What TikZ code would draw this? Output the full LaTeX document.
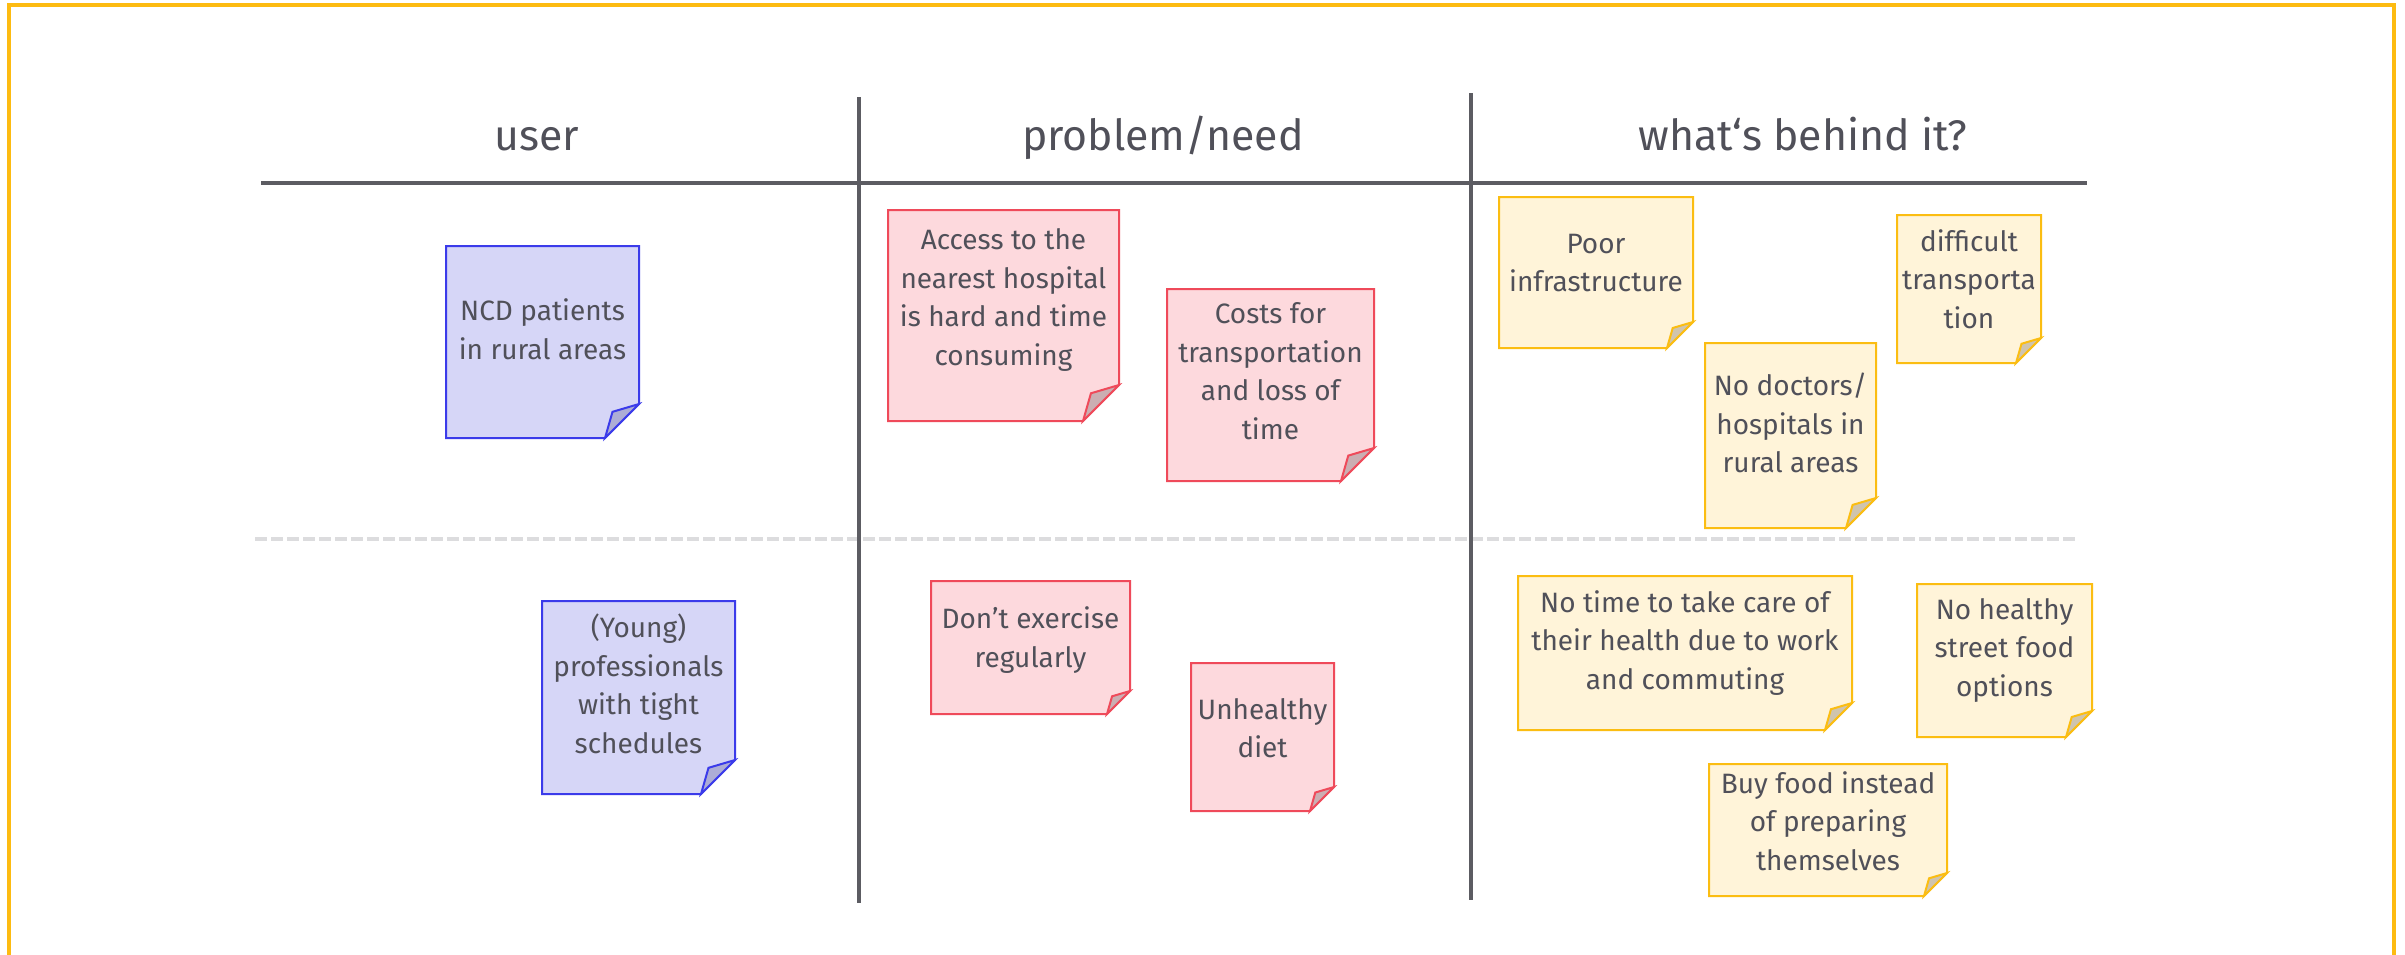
\documentclass[tikz,border=0pt]{standalone}
\usepackage{fontspec}
\setmainfont{Fira Sans}
\definecolor{txt}{HTML}{505059}
\definecolor{rule}{HTML}{5C5C62}
\definecolor{dashc}{HTML}{DCDCDE}
\definecolor{frame}{HTML}{FDBB11}
\definecolor{bluefill}{HTML}{D6D6F7}
\definecolor{blueline}{HTML}{3B3BEA}
\definecolor{bluefold}{HTML}{ADADD6}
\definecolor{pinkfill}{HTML}{FDD9DD}
\definecolor{pinkline}{HTML}{EF4A5A}
\definecolor{pinkfold}{HTML}{CBAEB2}
\definecolor{yellowfill}{HTML}{FFF4D9}
\definecolor{yellowline}{HTML}{FBBD12}
\definecolor{yellowfold}{HTML}{CFC4AE}
\newcommand\stickynote[9]{%
  \draw[notebox, fill=#2fill, draw=#2line] (#3,#4) -- (#5,#4) -- (#5,{#6-#7}) -- ({#5-#7},#6) -- (#3,#6) -- cycle;
  \draw[notebox, fill=#2fold, draw=#2line] (#5,{#6-#7}) -- ({#5-0.78*#7},{#6-0.77*#7}) -- ({#5-#7},#6) -- cycle;
  \node[notetext] (#1) at ({(#3+#5)/2},#8) {#9};
}
\begin{document}
\begin{tikzpicture}[x=0.5pt,y=-0.5pt,
  notebox/.style={line width=1pt, line join=miter},
  notetext/.style={font=\fontsize{14}{19.25}\selectfont, text=txt, align=center, inner sep=0pt},
  header/.style={font=\fontsize{21.4}{26}\selectfont, text=txt, inner sep=0pt, anchor=base},
  colrule/.style={draw=rule, line width=1.75pt},
  rowrule/.style={draw=dashc, line width=2pt, dash pattern=on 6pt off 2pt}]
\useasboundingbox (0,0) rectangle (2405,954);
\fill[white] (0,0) rectangle (2405,954);
% outer frame
\coordinate (fbl) at (9,958);
\coordinate (ftl) at (9,5);
\coordinate (ftr) at (2394,5);
\coordinate (fbr) at (2394,958);
\draw[draw=frame, line width=2pt] (fbl) -- (ftl) -- (ftr) -- (fbr);
% headers
\node[header] (hUser) at (537,150) {user};
\node[header] (hProb) at (1163,150) {problem/need};
\node[header] (hBehind) at (1803,150) {what‘s behind it?};
% rules
\coordinate (hl1) at (261,183);
\coordinate (hl2) at (2087,183);
\coordinate (v1t) at (859,97);
\coordinate (v1b) at (859,903);
\coordinate (v2t) at (1471,93);
\coordinate (v2b) at (1471,900);
\coordinate (d1) at (255,539);
\coordinate (d2) at (2078,539);
\draw[rowrule] (d1) -- (d2);
\draw[colrule] (hl1) -- (hl2);
\draw[colrule] (v1t) -- (v1b);
\draw[colrule] (v2t) -- (v2b);
% notes: name, palette, L, T, R, B, fold, centre y, text
\stickynote{ncd}{blue}{446}{246}{639}{438}{34}{329}{NCD patients\\in rural areas}
\stickynote{access}{pink}{888}{210}{1119}{421}{36}{300}{Access to the\\nearest hospital\\is hard and time\\consuming}
\stickynote{costs}{pink}{1167}{289}{1374}{481}{33}{371}{Costs for\\transportation\\and loss of\\time}
\stickynote{poor}{yellow}{1499}{197}{1693}{348}{26}{263}{Poor\\infrastructure}
\stickynote{nodoc}{yellow}{1705}{343}{1876}{528}{30}{423}{No doctors/\\hospitals in\\rural areas}
\stickynote{difficult}{yellow}{1897}{215}{2041}{363}{25}{279}{difficult\\transporta\\tion}
\stickynote{young}{blue}{542}{601}{735}{794}{34}{684}{(Young)\\professionals\\with tight\\schedules}
\stickynote{dont}{pink}{931}{581}{1130}{714}{23}{640}{Don’t exercise\\regularly}
\stickynote{diet}{pink}{1191}{663}{1334}{811}{24}{728}{Unhealthy\\diet}
\stickynote{notime}{yellow}{1518}{576}{1852}{730}{27}{643}{No time to take care of\\their health due to work\\and commuting}
\stickynote{nohealthy}{yellow}{1917}{584}{2092}{737}{26}{650}{No healthy\\street food\\options}
\stickynote{buy}{yellow}{1709}{764}{1947}{896}{23}{821}{Buy food instead\\of preparing\\themselves}
\end{tikzpicture}
\end{document}
